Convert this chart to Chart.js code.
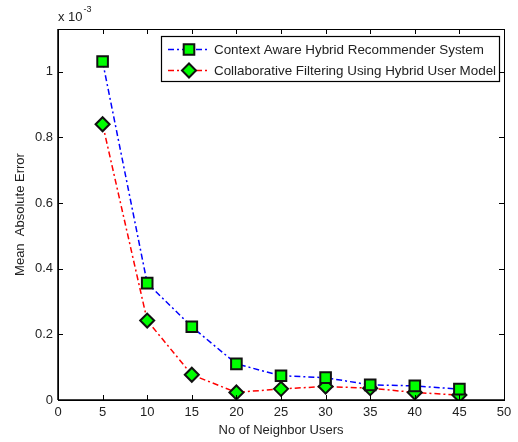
<!DOCTYPE html>
<html>
<head>
<meta charset="utf-8">
<script src="https://cdn.jsdelivr.net/npm/chart.js@4.4.0/dist/chart.umd.min.js"></script>
<style>
  html, body { margin: 0; padding: 0; background: #fff; }
  #wrap { width: 518px; height: 442px; }
</style>
</head>
<body>
<div id="wrap"><canvas id="chart1"></canvas></div>
<script>
// neighbour counts and MAE values (x 10^-3)
const neighbors = [5, 10, 15, 20, 25, 30, 35, 40, 45];
const contextAware = [1.031, 0.356, 0.223, 0.110, 0.074, 0.068, 0.046, 0.043, 0.033];
const collabFiltering = [0.840, 0.242, 0.077, 0.023, 0.034, 0.041, 0.036, 0.023, 0.015];
const xTicks = [0, 5, 10, 15, 20, 25, 30, 35, 40, 45, 50];
const yTicks = [0, 0.2, 0.4, 0.6, 0.8, 1];

const seriesNames = ['Context Aware Hybrid Recommender System', 'Collaborative Filtering Using Hybrid User Model'];
const FONT = 'Liberation Sans, Arial, Helvetica, sans-serif';
const DASH = [6, 3, 2, 3];

// matlab style box, inward ticks, exponent and legend
const matlabBox = {
    id: 'matlabBox',
    afterDraw(chart) {
        const ctx = chart.ctx;
        const a = chart.chartArea;
        const xs = chart.scales.x, ys = chart.scales.y;
        ctx.save();
        ctx.strokeStyle = '#000';
        ctx.lineWidth = 1;
        ctx.strokeRect(a.left + 0.5, a.top + 0.5, a.right - a.left, a.bottom - a.top);
        ctx.lineWidth = 1.5;
        ctx.beginPath();
        ctx.moveTo(a.left, a.bottom); ctx.lineTo(a.right, a.bottom);
        ctx.moveTo(a.left, a.top); ctx.lineTo(a.left, a.bottom);
        ctx.stroke();
        ctx.lineWidth = 1;
        ctx.beginPath();
        xTicks.forEach(v => {
            const px = Math.round(xs.getPixelForValue(v)) + 0.5;
            ctx.moveTo(px, a.bottom); ctx.lineTo(px, a.bottom - 5);
            ctx.moveTo(px, a.top); ctx.lineTo(px, a.top + 5);
        });
        yTicks.forEach(v => {
            const py = Math.round(ys.getPixelForValue(v)) + 0.5;
            ctx.moveTo(a.left, py); ctx.lineTo(a.left + 5, py);
            ctx.moveTo(a.right, py); ctx.lineTo(a.right - 5, py);
        });
        ctx.stroke();

        // exponent label
        ctx.fillStyle = '#222';
        ctx.textBaseline = 'alphabetic';
        ctx.textAlign = 'left';
        ctx.font = '13px ' + FONT;
        ctx.fillText('x 10', a.left, 21);
        const w = ctx.measureText('x 10').width;
        ctx.font = '9px ' + FONT;
        ctx.fillText('-3', a.left + w + 1, 12);

        // legend
        const lx = 161, ly = 36, lw = 338, lh = 45;
        ctx.fillStyle = '#fff';
        ctx.fillRect(lx, ly, lw, lh);
        ctx.lineWidth = 1.2;
        ctx.strokeStyle = '#000';
        ctx.strokeRect(lx + 0.5, ly + 0.5, lw, lh);
        const rows = [49.5, 70.5];
        chart.data.datasets.forEach((ds, i) => {
            const y = rows[i];
            ctx.save();
            ctx.strokeStyle = ds.borderColor;
            ctx.lineWidth = 1.5;
            ctx.setLineDash(DASH);
            ctx.beginPath();
            ctx.moveTo(168, y); ctx.lineTo(210, y);
            ctx.stroke();
            ctx.restore();
            ctx.save();
            ctx.fillStyle = ds.pointBackgroundColor;
            ctx.strokeStyle = ds.pointBorderColor;
            ctx.lineWidth = ds.pointBorderWidth;
            Chart.helpers.drawPoint(ctx, {pointStyle: ds.pointStyle, radius: ds.pointRadius, borderWidth: ds.pointBorderWidth}, 189, y);
            ctx.restore();
            ctx.fillStyle = '#222';
            ctx.font = '13.4px ' + FONT;
            ctx.textBaseline = 'middle';
            ctx.fillText(seriesNames[i], 214, y + 0.5);
        });
        ctx.restore();
    }
};

new Chart(document.getElementById('chart1'), {
    type: 'line',
    data: {
        labels: neighbors,
        datasets: [{
            label: seriesNames[0],
            data: neighbors.map((x, i) => ({x: x, y: contextAware[i]})),
            borderColor: '#0000ff',
            borderWidth: 1.5,
            borderDash: DASH,
            pointStyle: 'rect',
            pointRadius: 7.5,
            pointBackgroundColor: '#00ff00',
            pointBorderColor: '#111',
            pointBorderWidth: 2,
            fill: false
        }, {
            label: seriesNames[1],
            data: neighbors.map((x, i) => ({x: x, y: collabFiltering[i]})),
            borderColor: '#ff0000',
            borderWidth: 1.5,
            borderDash: DASH,
            pointStyle: 'rectRot',
            pointRadius: 7,
            pointBackgroundColor: '#00ff00',
            pointBorderColor: '#111',
            pointBorderWidth: 2,
            fill: false
        }]
    },
    options: {
        responsive: true,
        maintainAspectRatio: false,
        animation: false,
        layout: { padding: { top: 29, right: 14, left: 0, bottom: 0 } },
        plugins: {
            legend: { display: false },
            tooltip: { enabled: false }
        },
        scales: {
            x: {
                type: 'linear',
                min: 0, max: 50,
                afterBuildTicks: s => { s.ticks = xTicks.map(v => ({value: v})); },
                afterFit: s => { s.height = 42; },
                grid: { display: false, drawTicks: false },
                border: { display: false },
                ticks: { color: '#222', font: { family: FONT, size: 13 }, padding: 5, maxRotation: 0 },
                title: { display: true, text: 'No of Neighbor Users', color: '#222', font: { family: FONT, size: 13 }, padding: { top: 5 } }
            },
            y: {
                min: 0, max: 1.13,
                afterBuildTicks: s => { s.ticks = yTicks.map(v => ({value: v})); },
                afterFit: s => { s.width = 58; },
                grid: { display: false, drawTicks: false },
                border: { display: false },
                ticks: { color: '#222', font: { family: FONT, size: 13 }, padding: 5, callback: v => String(v) },
                title: { display: true, text: 'Mean  Absolute Error', color: '#222', font: { family: FONT, size: 13 }, padding: { top: 13, bottom: 0 } }
            }
        }
    },
    plugins: [matlabBox]
});
</script>
</body>
</html>
